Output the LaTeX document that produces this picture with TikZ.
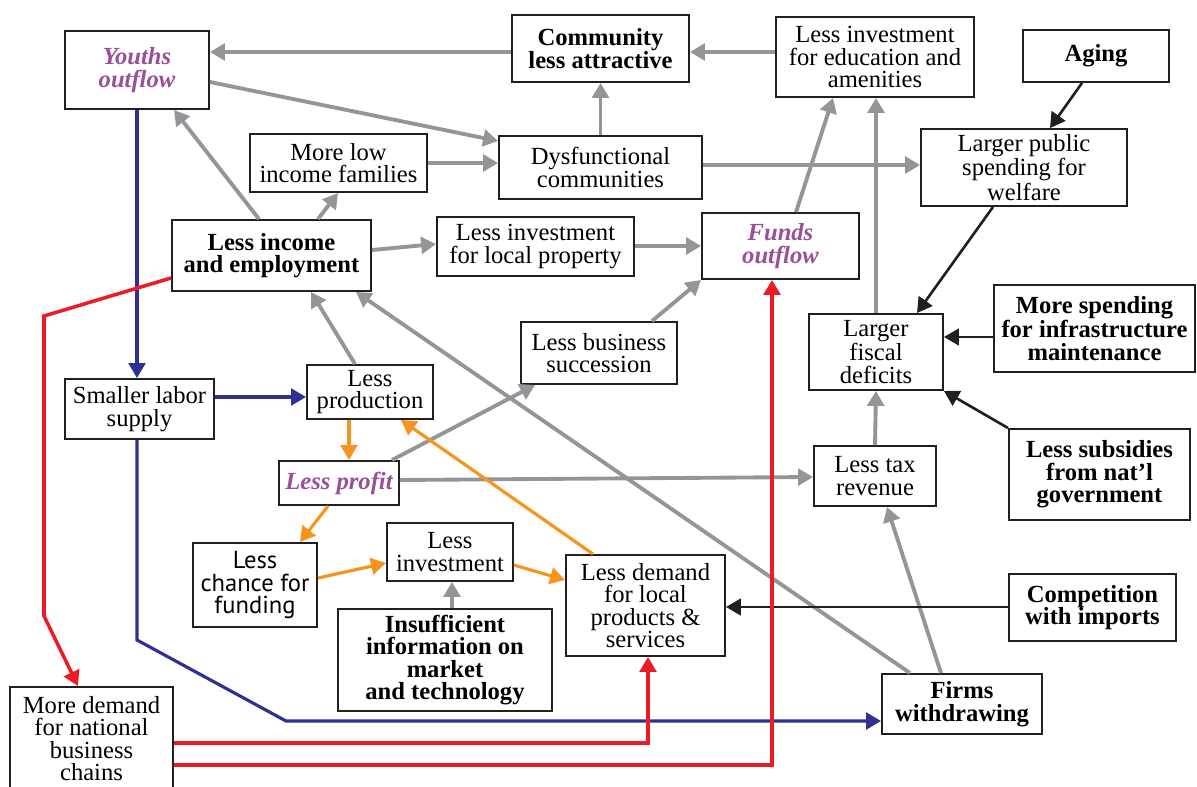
\documentclass[tikz,border=0pt]{standalone}
\usepackage{fontspec}
\setmainfont{Liberation Serif}
\newfontfamily\sansf{PT Sans}
\usepackage{xcolor}
\usetikzlibrary{arrows.meta,calc,positioning}

\definecolor{boxline}{HTML}{231F20}
\definecolor{garr}{HTML}{939598}
\definecolor{barr}{HTML}{2E3192}
\definecolor{rarr}{HTML}{ED1C24}
\definecolor{oarr}{HTML}{F7941D}
\definecolor{purp}{HTML}{9B4F96}

\begin{document}
\begin{tikzpicture}[x=0.02cm,y=-0.02cm,
	box/.style 2 args={draw=boxline,line width=1.1pt,fill=white,align=center,inner sep=1pt,
		minimum width=#1*0.02cm,minimum height=#2*0.02cm,font=\fontsize{14}{12.8}\selectfont},
	bbox/.style 2 args={box={#1}{#2},font=\fontsize{14}{12.8}\selectfont\bfseries},
	pbox/.style 2 args={box={#1}{#2},font=\fontsize{14}{12.8}\selectfont\bfseries\itshape,text=purp},
	tip/.style={-{Triangle[length=8.5pt,width=9.5pt]}},
	gline/.style={tip,draw=garr,line width=2.2pt},
	kline/.style={tip,draw=boxline,line width=1.5pt},
	bline/.style={tip,draw=barr,line width=1.8pt,line join=miter},
	rline/.style={tip,draw=rarr,line width=2pt,line join=miter},
	oline/.style={tip,draw=oarr,line width=1.8pt}]
	\clip (0,0) rectangle (1197,787);
	
	% boxes
	\node[pbox={144}{78}] (yo) at (137,70) {Youths\\outflow};
	\node[bbox={177}{67}] (ca) at (600.5,48.5) {Community\\less attractive};
	\node[box={198}{80}] (le) at (875,57) {Less investment\\for education and\\amenities};
	\node[bbox={146}{52}] (ag) at (1096,56) {Aging};
	\node[box={206}{77}] (lp) at (1024,167.5) {Larger public\\spending for\\welfare};
	\node[box={177}{58}] (ml) at (338.5,163) {More low\\income families};
	\node[box={203}{63}] (dc) at (600.5,167.5) {Dysfunctional\\communities};
	\node[bbox={199}{71}] (li) at (271.5,255.5) {Less income\\and employment};
	\node[box={197}{59}] (lf) at (535.5,246.5) {Less investment\\for local property};
	\node[pbox={157}{66}] (fo) at (780.5,246) {Funds\\outflow};
	\node[box={134}{76}] (fd) at (876,352) {Larger\\fiscal\\deficits};
	\node[bbox={201}{87}] (ms) at (1094.5,328.5) {More spending\\for infrastructure\\maintenance};
	\node[bbox={181}{91}] (ls) at (1099.5,474.5) {Less subsidies\\from nat’l\\government};
	\node[box={122}{60}] (lt) at (875,476) {Less tax\\revenue};
	\node[box={149}{60}] (sl) at (139.5,409) {Smaller labor\\supply};
	\node[box={126}{54}] (lpr) at (370,392) {Less\\production};
	\node[box={156}{62}] (lb) at (599,353) {Less business\\succession};
	\node[pbox={120}{44}] (lpf) at (339,483) {Less profit};
	\node[box={124}{84},font=\fontsize{14}{12.8}\sansf] (lc) at (255,585) {Less\\chance for\\funding};
	\node[box={126}{58}] (lv) at (450,552) {Less\\investment};
	\node[bbox={214}{102}] (ii) at (445,660) {Insufficient\\information on\\market\\and technology};
	\node[box={159}{101}] (ld) at (645.5,605.5) {Less demand\\for local\\products \&\\services};
	\node[bbox={167}{67}] (cw) at (1092.5,607.5) {Competition\\with imports};
	\node[bbox={160}{60}] (fw) at (962,704) {Firms\\withdrawing};
	\node[box={163}{103}] (md) at (91.5,738.5) {More demand\\for national\\business\\chains};
	
	% grey links
	\draw[gline] (ca.west |- 0,52) -- (yo.east |- 0,52);
	\draw[gline] (yo.east |- 0,82) -- (dc.west |- 0,141);
	\draw[gline] (ml.east |- 0,163) -- (dc.west |- 0,163);
	\draw[gline] (dc.north) -- (ca.south);
	\draw[gline] (le.west |- 0,52) -- (ca.east |- 0,52);
	\draw[gline] (dc.east |- 0,165) -- (lp.west |- 0,165);
	\draw[gline] (li.north -| 259,0) -- (yo.south -| 174,0);
	\draw[gline] (li.north -| 318,0) -- (ml.south -| 338,0);
	\draw[gline] (li.east |- 0,250) -- (lf.west |- 0,244);
	\draw[gline] (lf.east |- 0,246) -- (fo.west |- 0,246);
	\draw[gline] (fo.north -| 796,0) -- (le.south -| 833,0);
	\draw[gline] (fd.north) -- (le.south -| fd.north);
	\draw[gline] (lb.north -| 652,0) -- (fo.south west);
	\draw[gline] (lpr.north -| 355,0) -- (li.south -| 311,0);
	\draw[gline] (fw.north -| 910,0) -- (li.south -| 356,0);
	\draw[gline] (lpf.north -| 392,0) -- (lb.south -| 535,0);
	\draw[gline] (lpf.east |- 0,480) -- (lt.west |- 0,477);
	\draw[gline] (lt.north) -- (fd.south);
	\draw[gline] (fw.north -| 941,0) -- (lt.south -| 887,0);
	\draw[gline] (ii.north -| 452,0) -- (lv.south -| 452,0);
	
	% black links
	\draw[kline] (ag.south -| 1082,0) -- (lp.north -| 1050,0);
	\draw[kline] (lp.south -| 993,0) -- (fd.north -| 917,0);
	\draw[kline] (ms.west |- 0,337) -- (fd.east |- 0,337);
	\draw[kline] (ls.north west) -- (fd.south east);
	\draw[kline] (cw.west |- 0,607) -- (ld.east |- 0,607);
	
	% blue links
	\draw[bline] (yo.south) -- (sl.north -| yo.south);
	\draw[bline] (sl.east |- 0,397) -- (lpr.west |- 0,397);
	\draw[bline] (sl.south -| 137,0) -- (137,640) -- (286,721) -- (fw.west |- 0,721);
	
	% red links
	\draw[rline] (li.west |- 0,278) -- (44,316) -- (44,616) -- (md.north -| 78,0);
	\draw[rline] (md.east |- 0,743) -- (648,743) -- (ld.south -| 648,0);
	\draw[rline] (md.east |- 0,765) -- (772,765) -- (fo.south -| 772,0);
	
	% orange links
	\draw[oline] (lpr.south -| 349,0) -- (lpf.north -| 349,0);
	\draw[oline] (lpf.south -| 328,0) -- (lc.north -| 300,0);
	\draw[oline] (lc.east |- 0,578) -- (lv.west |- 0,563);
	\draw[oline] (lv.east |- 0,565) -- (ld.west |- 0,580);
	\draw[oline] (ld.north -| 593,0) -- (lpr.south -| 401,0);
\end{tikzpicture}
\end{document}
